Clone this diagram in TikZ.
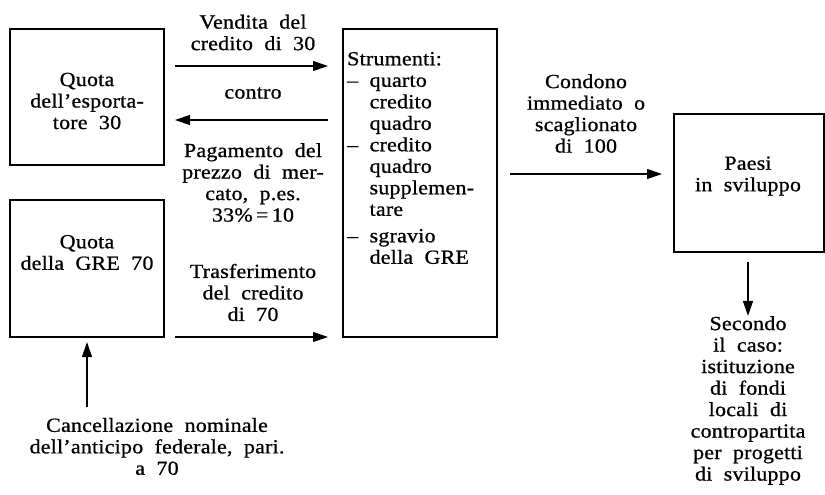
\documentclass[tikz,border=0pt]{standalone}
\usepackage{fontspec}
\setmainfont{Liberation Serif}[FakeStretch=1.1, LetterSpace=1, WordSpace=2, FakeBold=0.8]
\usetikzlibrary{arrows.meta}
\begin{document}
\begin{tikzpicture}[x=1pt,y=-1pt,
 box/.style={draw, line width=1.2pt, inner sep=0pt, outer sep=0pt},
 txt/.style={align=center, font=\fontsize{20}{21.5}\selectfont, inner sep=0pt},
 arr/.style={line width=1.2pt, -{Triangle[length=15pt,width=10pt]}}]
\useasboundingbox (0,0) rectangle (825,495);
% boxes
\node[box, minimum width=154pt, minimum height=136pt] (A) at (87,97) {};
\node[box, minimum width=154pt, minimum height=137pt] (B) at (87,268.5) {};
\node[box, minimum width=154pt, minimum height=308pt] (C) at (420,183) {};
\node[box, minimum width=150pt, minimum height=138pt] (D) at (749,183) {};
% box texts
\node[txt] (tA) at (87,101) {Quota\\dell’esporta-\\tore 30};
\node[txt] (tB) at (87,252.5) {Quota\\della GRE 70};
\node[txt, align=left, anchor=west] (tC) at (347,158) {Strumenti:\\
– quarto\\\hphantom{– }credito\\\hphantom{– }quadro\\
– credito\\\hphantom{– }quadro\\\hphantom{– }supplemen-\\\hphantom{– }tare\\[5pt]
– sgravio\\\hphantom{– }della GRE};
\node[txt] (tD) at (748,176) {Paesi\\in sviluppo};
% arrow labels
\node[txt] (lv) at (253,32.5) {Vendita del\\credito di 30};
\node[txt] (lc) at (253,93) {contro};
\node[txt] (lp) at (253,182.5) {Pagamento del\\prezzo di mer-\\cato, p.es.\\33\%\,=\,10};
\node[txt] (lt) at (253,292.5) {Trasferimento\\del credito\\di 70};
\node[txt] (lk) at (586,113.5) {Condono\\immediato o\\scaglionato\\di 100};
\node[txt] (ln) at (157,446.5) {Cancellazione nominale\\dell’anticipo federale, pari.\\a 70};
\node[txt] (ls) at (748,400.5) {Secondo\\il caso:\\istituzione\\di fondi\\locali di\\contropartita\\per progetti\\di sviluppo};
% connectors
\coordinate (v1) at (A.east |- 0,66);
\coordinate (v2) at (C.west |- 0,66);
\draw[arr, shorten <=11pt, shorten >=15pt] (v1) -- (v2);
\coordinate (c1) at (C.west |- 0,120);
\coordinate (c2) at (A.east |- 0,120);
\draw[arr, shorten <=15pt, shorten >=11pt] (c1) -- (c2);
\coordinate (t1) at (B.east |- 0,337);
\coordinate (t2) at (C.west |- 0,337);
\draw[arr, shorten <=11pt, shorten >=15pt] (t1) -- (t2);
\coordinate (k1) at (C.east |- 0,174);
\coordinate (k2) at (D.west |- 0,174);
\draw[arr, shorten <=13pt, shorten >=12pt] (k1) -- (k2);
\coordinate (s1) at (748,262);
\draw[arr] (s1) -- (ls.north);
\coordinate (u1) at (87,407);
\draw[arr, shorten >=5pt] (u1) -- (B.south);
\end{tikzpicture}
\end{document}
